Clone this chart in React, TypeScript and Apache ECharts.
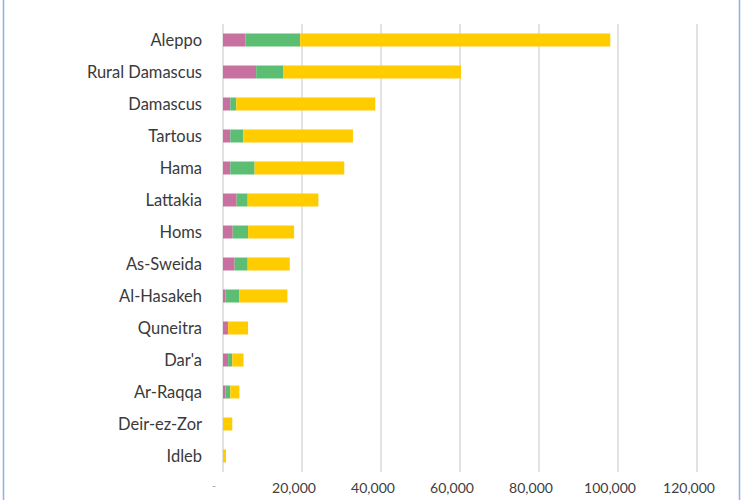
import React, { useEffect, useRef } from "react";
import * as echarts from "echarts";

const categories = [
  "Aleppo",
  "Rural Damascus",
  "Damascus",
  "Tartous",
  "Hama",
  "Lattakia",
  "Homs",
  "As-Sweida",
  "Al-Hasakeh",
  "Quneitra",
  "Dar'a",
  "Ar-Raqqa",
  "Deir-ez-Zor",
  "Idleb",
];

const pinkValues = [5700, 8400, 1850, 1850, 1850, 3450, 2450, 2950, 650, 1300, 1300, 650, 0, 0];
const greenValues = [13850, 6800, 1500, 3300, 6150, 2800, 3900, 3300, 3500, 0, 1050, 1200, 0, 0];
const yellowValues = [78500, 45050, 35200, 27750, 22700, 17900, 11650, 10650, 12150, 5050, 2850, 2300, 2350, 750];

const tickLabels = ["-", "20,000", "40,000", "60,000", "80,000", "100,000", "120,000"];

export default function App() {
  const ref = useRef<HTMLDivElement>(null);
  useEffect(() => {
    document.body.style.margin = "0";
    const chart = echarts.init(ref.current!, null, { renderer: "svg" });
    const font = "Lato, 'Open Sans', sans-serif";
    chart.setOption({
      animation: false,
      backgroundColor: "#ffffff",
      grid: { left: 223, right: 45, top: 24, bottom: 28, containLabel: false },
      xAxis: {
        type: "value",
        min: 0,
        max: 120000,
        interval: 20000,
        axisLine: { show: false },
        axisTick: { show: false },
        splitLine: { show: true, lineStyle: { color: "#d9d9d9", width: 1.5 } },
        axisLabel: {
          margin: 8,
          fontFamily: font,
          fontSize: 14,
          color: "#404040",
          formatter: (v: number) => {
            const i = Math.round(v / 20000);
            if (i === 0) return "{dash|" + tickLabels[0] + "}";
            return "{num|" + (tickLabels[i] ?? "") + "}";
          },
          rich: {
            dash: { color: "#a0a0a0", fontSize: 11, padding: [0, 18, 0, 0], fontFamily: font },
            num: { color: "#404040", fontSize: 14, padding: [0, 16, 0, 0], fontFamily: font },
          },
        },
      },
      yAxis: {
        type: "category",
        data: categories,
        inverse: true,
        axisLine: { show: false },
        axisTick: { show: false },
        axisLabel: { margin: 21, fontFamily: font, fontSize: 16.5, color: "#3a3a3a", padding: [0, 0, 5, 0] },
      },
      series: [
        {
          name: "Pink",
          type: "bar",
          stack: "total",
          data: pinkValues,
          barWidth: 13,
          itemStyle: { color: "#C8709F" },
        },
        {
          name: "Green",
          type: "bar",
          stack: "total",
          data: greenValues,
          barWidth: 13,
          itemStyle: { color: "#5CBE73" },
        },
        {
          name: "Yellow",
          type: "bar",
          stack: "total",
          data: yellowValues,
          barWidth: 13,
          itemStyle: { color: "#FFCC00" },
        },
      ],
      graphic: [
        { type: "line", shape: { x1: 3.5, y1: 0, x2: 3.5, y2: 500 }, style: { stroke: "#8DB3E2", lineWidth: 1.5 } },
        { type: "line", shape: { x1: 739.5, y1: 0, x2: 739.5, y2: 500 }, style: { stroke: "#8DB3E2", lineWidth: 1.5 } },
      ],
    });
    return () => chart.dispose();
  }, []);
  return <div ref={ref} style={{ position: "fixed", left: 0, top: 0, width: 742, height: 500 }} />;
}
